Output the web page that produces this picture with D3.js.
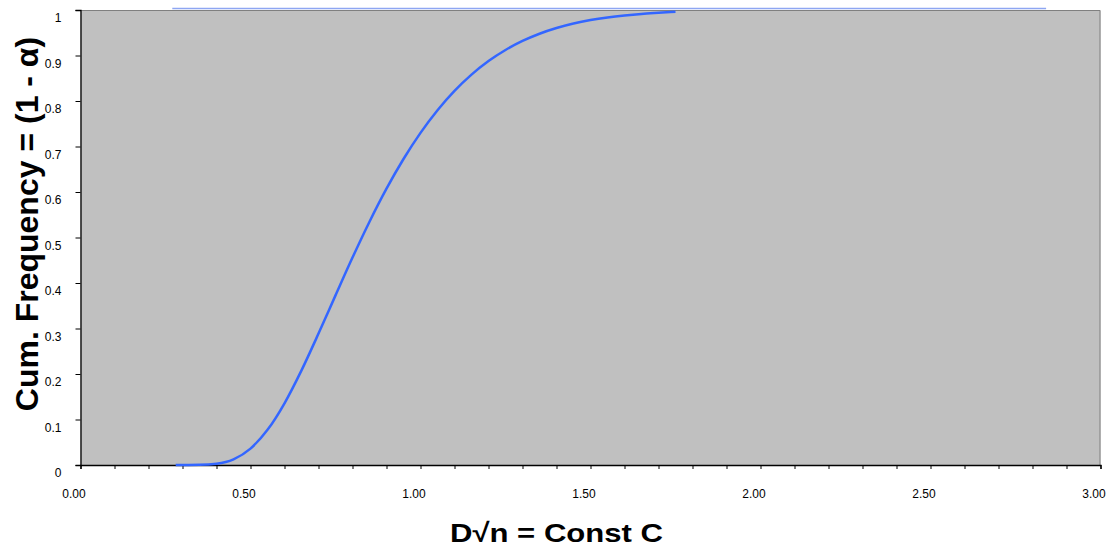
<!DOCTYPE html>
<html>
<head>
<meta charset="utf-8">
<script src="https://cdn.jsdelivr.net/npm/d3@7"></script>
<style>
  body { margin: 0; background: #fff; }
  svg text { font-family: "Liberation Sans", Arial, sans-serif; }
</style>
</head>
<body>
<div id="chart"></div>
<script>
// cumulative frequency of D*sqrt(n)
const cValues = [0.28, 0.30, 0.35, 0.40, 0.45, 0.50, 0.55, 0.60, 0.65, 0.70, 0.75, 0.80, 0.85,
  0.90, 0.95, 1.00, 1.05, 1.10, 1.15, 1.20, 1.25, 1.30, 1.35, 1.40, 1.45, 1.50, 1.55, 1.60,
  1.65, 1.70, 1.75];
const cumFreq = [0.0000, 0.0000, 0.0003, 0.0028, 0.0126, 0.0361, 0.0772, 0.1357, 0.2080,
  0.2888, 0.3728, 0.4559, 0.5347, 0.6073, 0.6725, 0.7300, 0.7798, 0.8223, 0.8580, 0.8878,
  0.9121, 0.9319, 0.9478, 0.9603, 0.9702, 0.9778, 0.9836, 0.9880, 0.9914, 0.9938, 0.9960];

// upper limit line
const limitX = [0.27, 2.84];
const limitY = [1, 1];

const xTickLabels = ["0.00", "0.50", "1.00", "1.50", "2.00", "2.50", "3.00"];
const yTickLabels = ["0", "0.1", "0.2", "0.3", "0.4", "0.5", "0.6", "0.7", "0.8", "0.9", "1"];

const width = 1111, height = 548;

const svg = d3.select("#chart").append("svg")
  .attr("width", width)
  .attr("height", height);

const x = d3.scaleLinear().domain([0, 3]).range([80.5, 1100.5]);
const y = d3.scaleLinear().domain([0, 1]).range([465, 10]);

// plot area
svg.append("rect")
  .attr("x", x(0)).attr("y", y(1))
  .attr("width", x(3) - x(0)).attr("height", y(0) - y(1))
  .attr("fill", "#c0c0c0");

svg.append("path")
  .attr("d", `M${x(0)},${y(1) + 0.5}H${x(3) - 0.5}V${y(0)}`)
  .attr("fill", "none")
  .attr("stroke", "#808080")
  .attr("stroke-width", 1);

// x axis
const xAxis = svg.append("g")
  .attr("transform", `translate(0,${y(0)})`)
  .call(d3.axisBottom(x).tickValues(d3.range(0, 31).map(i => i / 10)).tickSize(4).tickFormat(""));
xAxis.select(".domain").attr("stroke", "#000").attr("stroke-width", 1.3);
xAxis.selectAll(".tick line").attr("stroke", "#000");

svg.append("g").selectAll("text")
  .data(xTickLabels)
  .join("text")
  .attr("x", d => x(+d) - 6.5)
  .attr("y", y(0) + 33)
  .attr("text-anchor", "middle")
  .attr("font-size", 12)
  .text(d => d);

// y axis
const yAxis = svg.append("g")
  .attr("transform", `translate(${x(0)},0)`)
  .call(d3.axisLeft(y).tickValues(yTickLabels.map(Number)).tickSize(5).tickFormat(""));
yAxis.select(".domain").attr("stroke", "#000").attr("stroke-width", 1.3);
yAxis.selectAll(".tick line").attr("stroke", "#000");

svg.append("g").selectAll("text")
  .data(yTickLabels)
  .join("text")
  .attr("x", x(0) - 19)
  .attr("y", d => y(+d) + 12)
  .attr("text-anchor", "end")
  .attr("font-size", 12)
  .text(d => d);

// series
const line = d3.line().x(d => x(d[0])).y(d => y(d[1])).curve(d3.curveMonotoneX);

svg.append("path")
  .datum(d3.zip(limitX, limitY))
  .attr("d", line)
  .attr("transform", "translate(0,-1.5)")
  .attr("fill", "none")
  .attr("stroke", "#8ea6f2")
  .attr("stroke-width", 1.5);

svg.append("path")
  .datum(d3.zip(cValues, cumFreq))
  .attr("d", line)
  .attr("fill", "none")
  .attr("stroke", "#3366ff")
  .attr("stroke-width", 2.5);

// titles
svg.append("text")
  .attr("x", 556.5)
  .attr("y", 541.5)
  .attr("text-anchor", "middle")
  .attr("font-size", 26.5)
  .attr("font-weight", "bold")
  .attr("textLength", 213)
  .attr("lengthAdjust", "spacingAndGlyphs")
  .text("D√n = Const C");

svg.append("text")
  .attr("transform", "translate(37.5,224) rotate(-90)")
  .attr("text-anchor", "middle")
  .attr("font-size", 32)
  .attr("font-weight", "bold")
  .text("Cum. Frequency = (1 - α)");
</script>
</body>
</html>
